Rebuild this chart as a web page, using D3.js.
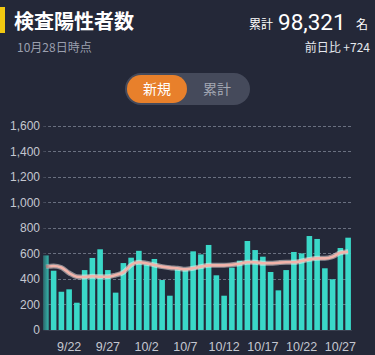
<!DOCTYPE html>
<html><head><meta charset="utf-8">
<script src="https://cdn.jsdelivr.net/npm/d3@7"></script>
<style>
html,body{margin:0;padding:0;background:#242838;}
svg{display:block;font-family:Roboto,"Noto Sans CJK JP",sans-serif;}
</style></head>
<body><svg id="c" width="375" height="355"></svg>
<script>
const dates = ["9/19","9/20","9/21","9/22","9/23","9/24","9/25","9/26","9/27","9/28","9/29","9/30",
"10/1","10/2","10/3","10/4","10/5","10/6","10/7","10/8","10/9","10/10","10/11","10/12","10/13","10/14",
"10/15","10/16","10/17","10/18","10/19","10/20","10/21","10/22","10/23","10/24","10/25","10/26","10/27","10/28"];
const newCases = [585,465,300,319,214,470,565,633,470,293,525,567,
621,515,557,392,269,476,470,617,593,667,429,269,489,544,
698,627,575,455,311,470,612,601,737,714,484,398,643,724];
const avg7 = [497,502,490,447,418,416,421,418,418,431,452,510,
531,523,510,497,489,484,476,484,497,507,507,507,512,520,
531,531,523,523,528,531,531,541,554,562,562,575,606,614];
const yTicks = [0,200,400,600,800,1000,1200,1400,1600];
const xTickLabels = ["9/22","9/27","10/2","10/7","10/12","10/17","10/22","10/27"];

const svg = d3.select("#c");
const bg = "#242838";
const jp = "'Noto Sans CJK JP',sans-serif";

// Header
svg.append("rect").attr("x",0).attr("y",7).attr("width",5).attr("height",26).attr("fill","#f2c811");
svg.append("text").attr("x",14).attr("y",29).attr("fill","#ffffff").attr("font-size",20).attr("font-weight","bold")
  .attr("font-family",jp).text("検査陽性者数");
svg.append("text").attr("x",17).attr("y",52).attr("fill","#9a9fae").attr("font-size",12)
  .attr("font-family",jp).text("10月28日時点");

svg.append("text").attr("x",273).attr("y",29).attr("text-anchor","end").attr("fill","#ffffff")
  .attr("font-size",12).attr("font-family",jp).text("累計");
svg.append("text").attr("x",278).attr("y",30).attr("fill","#ffffff")
  .attr("font-size",22.5).attr("font-family","Roboto,sans-serif").text("98,321");
svg.append("text").attr("x",356).attr("y",29).attr("fill","#ffffff")
  .attr("font-size",12).attr("font-family",jp).text("名");
svg.append("text").attr("x",370).attr("y",52).attr("text-anchor","end").attr("fill","#e6e8ee").attr("font-size",12)
  .attr("font-family",jp).text("前日比 +724");

// Toggle
svg.append("rect").attr("x",125).attr("y",73).attr("width",125).attr("height",32).attr("rx",16).attr("fill","#454a5b");
svg.append("rect").attr("x",127).attr("y",75).attr("width",60).attr("height",28).attr("rx",14).attr("fill","#e8802b");
svg.append("text").attr("x",157).attr("y",94).attr("text-anchor","middle").attr("fill","#ffffff").attr("font-size",14)
  .attr("font-family",jp).text("新規");
svg.append("text").attr("x",217).attr("y",94).attr("text-anchor","middle").attr("fill","#a3a7b3").attr("font-size",14)
  .attr("font-family",jp).text("累計");

// Chart
const x = d3.scaleBand().domain(dates).range([42,352]).paddingInner(0.28).paddingOuter(0.14);
const y = d3.scaleLinear().domain([0,1600]).range([330,126]);

const g = svg.append("g");
g.selectAll("line.grid").data(yTicks.filter(d=>d>0)).join("line").attr("class","grid")
  .attr("x1",43).attr("x2",352).attr("y1",d=>y(d)).attr("y2",d=>y(d))
  .attr("stroke","#6a7080").attr("stroke-width",1).attr("stroke-dasharray","3,2").attr("shape-rendering","crispEdges");

const yAxis = d3.axisLeft(y).tickValues(yTicks).tickFormat(d3.format(",")).tickSize(0).tickPadding(0);
const ya = svg.append("g").attr("transform","translate(40,0)").call(yAxis);
ya.select(".domain").remove();
ya.selectAll("text").attr("fill","#c4c7d0").attr("font-size",12).attr("font-family","'Liberation Sans',Arial,sans-serif");

g.selectAll("rect.bar").data(dates).join("rect").attr("class","bar")
  .attr("x",d=>x(d)).attr("width",x.bandwidth())
  .attr("y",(d,i)=>y(newCases[i])).attr("height",(d,i)=>y(0)-y(newCases[i]))
  .attr("fill","#3ad8c8");

svg.append("line").attr("x1",43).attr("x2",352).attr("y1",330.5).attr("y2",330.5).attr("stroke","#3a4050");

const line = d3.line().x((d,i)=>x(dates[i])+x.bandwidth()/2).y(d=>y(d)).curve(d3.curveMonotoneX);
g.append("path").datum(avg7).attr("d",line).attr("fill","none").attr("stroke","#fff3f0").attr("stroke-width",5).attr("stroke-opacity",0.5);
g.append("path").datum(avg7).attr("d",line).attr("fill","none").attr("stroke","#f2b3aa").attr("stroke-width",2.6);

// left fade
const defs = svg.append("defs");
const lg = defs.append("linearGradient").attr("id","fade").attr("x1","0").attr("x2","1");
lg.append("stop").attr("offset","0").attr("stop-color",bg).attr("stop-opacity",0.75);
lg.append("stop").attr("offset","1").attr("stop-color",bg).attr("stop-opacity",0);
svg.append("rect").attr("x",42).attr("y",120).attr("width",9).attr("height",211).attr("fill","url(#fade)");

const xAxis = d3.axisBottom(x).tickValues(xTickLabels).tickSize(0).tickPadding(0);
const xa = svg.append("g").attr("transform","translate(0,342)").call(xAxis);
xa.select(".domain").remove();
xa.selectAll("text").attr("fill","#c4c7d0").attr("font-size",12.5).attr("dy","0.71em").attr("font-family","'Liberation Sans',Arial,sans-serif");
</script></body></html>
